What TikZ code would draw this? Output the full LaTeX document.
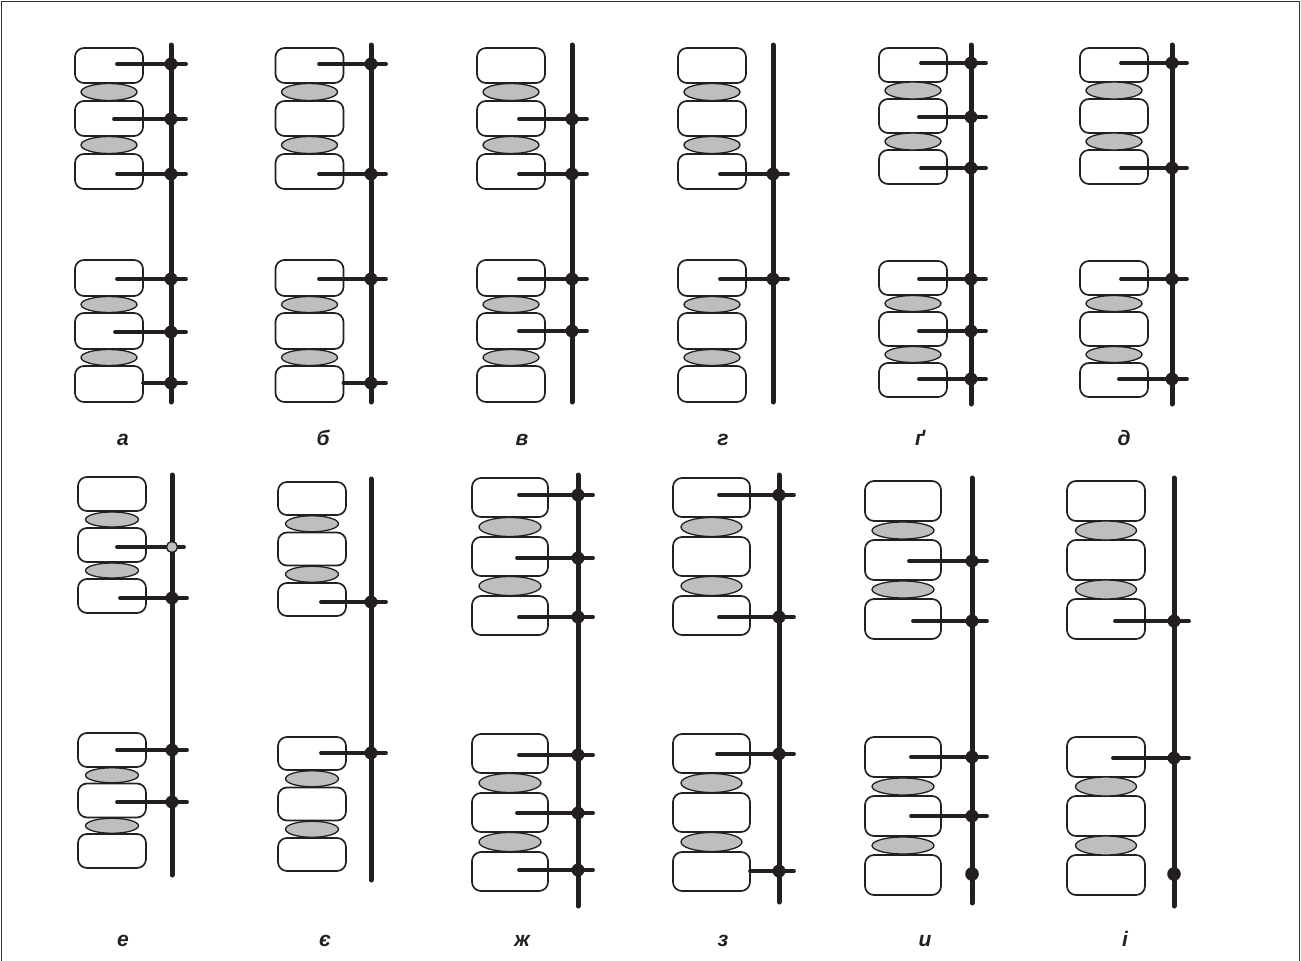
\documentclass[tikz,border=0pt]{standalone}
\usepackage{fontspec}
\setmainfont{Liberation Sans}
\definecolor{ink}{HTML}{231F20}
\definecolor{discgrey}{HTML}{BCBEC0}

% three vertebrae with two discs: cx, top, width, height, pitch, disc x-radius, disc y-radius
\newcommand\spGroup[7]{%
  \foreach \k in {0,1,2}{\draw[vbox] ({#1-#3/2},{#2+\k*#5}) rectangle ++(#3,#4);}
  \foreach \k in {0,1}{\draw[disc] (#1,{#2+\k*#5+(#5+#4)/2}) ellipse [x radius=#6pt, y radius=#7pt];}
}
% rod: x, top, bottom
\newcommand\spRod[3]{\draw[rod] (#1,#2) -- (#1,#3);}
% screw: start x, rod x, y
\newcommand\spScrew[3]{%
  \draw[screw] (#1,#3) -- ({#2+15},#3);
  \fill[ink] (#2,#3) circle [radius=6.5pt];
}
% loose screw with open head
\newcommand\spLoose[3]{%
  \draw[screw] (#1,#3) -- ({#2+12},#3);
  \draw[loosehead] (#2,#3) circle [radius=5.5pt];
}
% anchor point on the rod without a screw
\newcommand\spPin[2]{\fill[ink] (#1,#2) circle [radius=6.8pt];}

\begin{document}
\begin{tikzpicture}[x=1pt,y=-1pt,
  vbox/.style={draw=ink, line width=1.7pt, fill=white, rounded corners=9pt},
  disc/.style={draw=ink, line width=1.3pt, fill=discgrey},
  rod/.style={draw=ink, line width=5pt, line cap=round},
  screw/.style={draw=ink, line width=3.8pt, line cap=round},
  loosehead/.style={draw=ink, line width=1.3pt, fill=discgrey},
  lbl/.style={font=\fontsize{21}{21}\selectfont\bfseries\itshape, anchor=base, inner sep=0pt, text=ink}]
\useasboundingbox (0,0) rectangle (1301,961);
\draw[black!80, line width=1.4pt] (1.5,961) -- (1.5,1.5) -- (1299.5,1.5) -- (1299.5,961);

% ---------- row 1 ----------
% а
\spGroup{109}{48}{68}{35}{53}{28}{8.5}
\spGroup{109}{260}{68}{36}{53}{28}{8}
\spRod{171}{45}{402}
\spScrew{117}{171}{64}\spScrew{114}{171}{119}\spScrew{117}{171}{174}
\spScrew{117}{171}{279}\spScrew{115}{171}{332}\spScrew{143}{171}{383}
\node[lbl] (la) at (123,445) {а};

% б
\spGroup{309.5}{48}{68}{35}{53}{28}{8.5}
\spGroup{309.5}{260}{68}{36}{53}{28}{8}
\spRod{371}{45}{402}
\spScrew{319}{371}{64}\spScrew{319}{371}{174}
\spScrew{319}{371}{279}\spScrew{343.5}{371}{383}
\node[lbl] (lb) at (323,445) {б};

% в
\spGroup{511}{48}{68}{35}{53}{28}{8.5}
\spGroup{511}{260}{68}{36}{53}{28}{8}
\spRod{572}{45}{402}
\spScrew{519}{572}{119}\spScrew{519}{572}{174}
\spScrew{519}{572}{279}\spScrew{519}{572}{331}
\node[lbl] (lv) at (522,445) {в};

% г
\spGroup{712}{48}{68}{35}{53}{28}{8.5}
\spGroup{712}{260}{68}{36}{53}{28}{8}
\spRod{773}{45}{402}
\spScrew{720}{773}{174}\spScrew{720}{773}{279}
\node[lbl] (lg) at (723,445) {г};

% ґ
\spGroup{913}{48}{68}{34}{51}{28}{8.5}
\spGroup{913}{261}{68}{34}{51}{28}{8}
\spRod{971}{45}{404}
\spScrew{921}{971}{63}\spScrew{919}{971}{117}\spScrew{921}{971}{168}
\spScrew{919}{971}{279}\spScrew{919}{971}{331}\spScrew{919}{971}{379}
\node[lbl] (lgg) at (920,445) {ґ};

% д
\spGroup{1114}{48}{68}{34}{51}{28}{8.5}
\spGroup{1114}{261}{68}{34}{51}{28}{8}
\spRod{1172}{45}{404}
\spScrew{1121}{1172}{63}\spScrew{1121}{1172}{168}
\spScrew{1121}{1172}{279}\spScrew{1119}{1172}{379}
\node[lbl] (ld) at (1124,445) {д};

% ---------- row 2 ----------
% е
\spGroup{112}{477}{68}{34}{51}{26.5}{7.5}
\spGroup{112}{733}{68}{34}{50.5}{26.5}{7.5}
\spRod{172}{475}{875}
\spLoose{117}{172}{547}\spScrew{120}{172}{598}
\spScrew{117}{172}{750}\spScrew{117}{172}{802}
\node[lbl] (le) at (123,946) {е};

% є
\spGroup{312}{482}{68}{33}{50.5}{26.5}{8}
\spGroup{312}{737}{68}{33}{50.5}{26.5}{8}
\spRod{371}{479}{880}
\spScrew{321}{371}{602}\spScrew{321}{371}{753}
\node[lbl] (lye) at (325,946) {є};

% ж
\spGroup{510}{478}{76}{39}{59}{31}{9.5}
\spGroup{510}{734}{76}{39}{59}{31}{9.5}
\spRod{578}{475}{906}
\spScrew{519}{578}{495}\spScrew{517}{578}{558}\spScrew{519}{578}{617}
\spScrew{519}{578}{755}\spScrew{517}{578}{813}\spScrew{519}{578}{870}
\node[lbl] (lzh) at (522,946) {ж};

% з
\spGroup{711.5}{478}{77}{39}{59}{30.5}{9.5}
\spGroup{711.5}{734}{77}{39}{59}{30.5}{9.5}
\spRod{779}{475}{902}
\spScrew{719}{779}{495}\spScrew{719}{779}{617}
\spScrew{717}{779}{754}\spScrew{750}{779}{871}
\node[lbl] (lz) at (723,946) {з};

% и
\spGroup{903}{481}{76}{40}{59}{31}{8.5}
\spGroup{903}{737}{76}{40}{59}{31}{8.5}
\spRod{972}{478}{903}
\spScrew{909}{972}{561}\spScrew{913}{972}{621}
\spScrew{911}{972}{757}\spScrew{911}{972}{816}
\spPin{972}{874}
\node[lbl] (ly) at (925,946) {и};

% і
\spGroup{1106}{481}{78}{40}{59}{30.5}{9.5}
\spGroup{1106}{737}{78}{40}{59}{30.5}{9.5}
\spRod{1174}{478}{906}
\spScrew{1115}{1174}{621}\spScrew{1113}{1174}{758}
\spPin{1174}{874}
\node[lbl] (li) at (1125,946) {і};
\end{tikzpicture}
\end{document}
